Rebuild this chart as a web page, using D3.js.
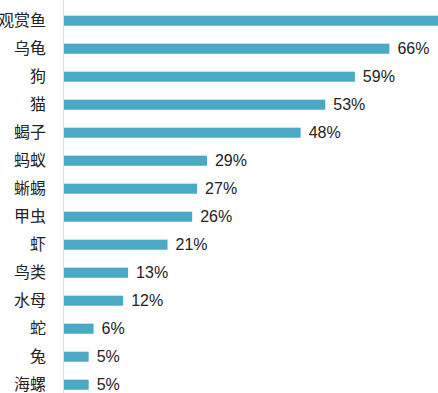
<!DOCTYPE html>
<html>
<head>
  <meta charset="utf-8">
  <title></title>
  <style>
    body { margin: 0; background: #fff; overflow: hidden; }
    text { font-family: "Liberation Sans", Arial, "Noto Sans CJK SC", sans-serif; }
  </style>
</head>
<body>
  <script src="https://cdn.jsdelivr.net/npm/d3@7"></script>
  <script>
    var categories = ["观赏鱼", "乌龟", "狗", "猫", "蝎子", "蚂蚁", "蜥蜴", "甲虫", "虾", "鸟类", "水母", "蛇", "兔", "海螺"];
    var values = [81, 66, 59, 53, 48, 29, 27, 26, 21, 13, 12, 6, 5, 5];

    var width = 438, height = 393;
    var svg = d3.select("body").append("svg")
      .attr("width", width)
      .attr("height", height);

    var x = d3.scaleLinear().domain([0, 100]).range([64, 557]);
    var y = d3.scaleBand().domain(categories)
      .range([6.7, 6.7 + 28 * categories.length])
      .paddingInner(0.64).paddingOuter(0.32);

    var data = categories.map(function(c, i) { return { name: c, value: values[i] }; });

    // bars
    svg.selectAll("rect.bar").data(data).enter().append("rect")
      .attr("class", "bar")
      .attr("x", x(0))
      .attr("y", function(d) { return y(d.name); })
      .attr("width", function(d) { return x(d.value) - x(0); })
      .attr("height", y.bandwidth())
      .attr("fill", "#4aaac6");

    // vertical axis line
    svg.append("line")
      .attr("x1", x(0) - 0.5).attr("x2", x(0) - 0.5)
      .attr("y1", 0).attr("y2", height)
      .attr("stroke", "#d9dde2");

    // category labels
    svg.selectAll("text.cat").data(data).enter().append("text")
      .attr("class", "cat")
      .attr("x", 46)
      .attr("y", function(d) { return y(d.name) + y.bandwidth() / 2; })
      .attr("dy", "0.36em")
      .attr("text-anchor", "end")
      .attr("font-size", 16)
      .attr("fill", "#222")
      .text(function(d) { return d.name; });

    // value labels
    svg.selectAll("text.val").data(data).enter().append("text")
      .attr("class", "val")
      .attr("x", function(d) { return x(d.value) + 8; })
      .attr("y", function(d) { return y(d.name) + y.bandwidth() / 2; })
      .attr("dy", "0.36em")
      .attr("font-size", 16)
      .attr("fill", "#222")
      .text(function(d) { return d.value + "%"; });
  </script>
</body>
</html>
